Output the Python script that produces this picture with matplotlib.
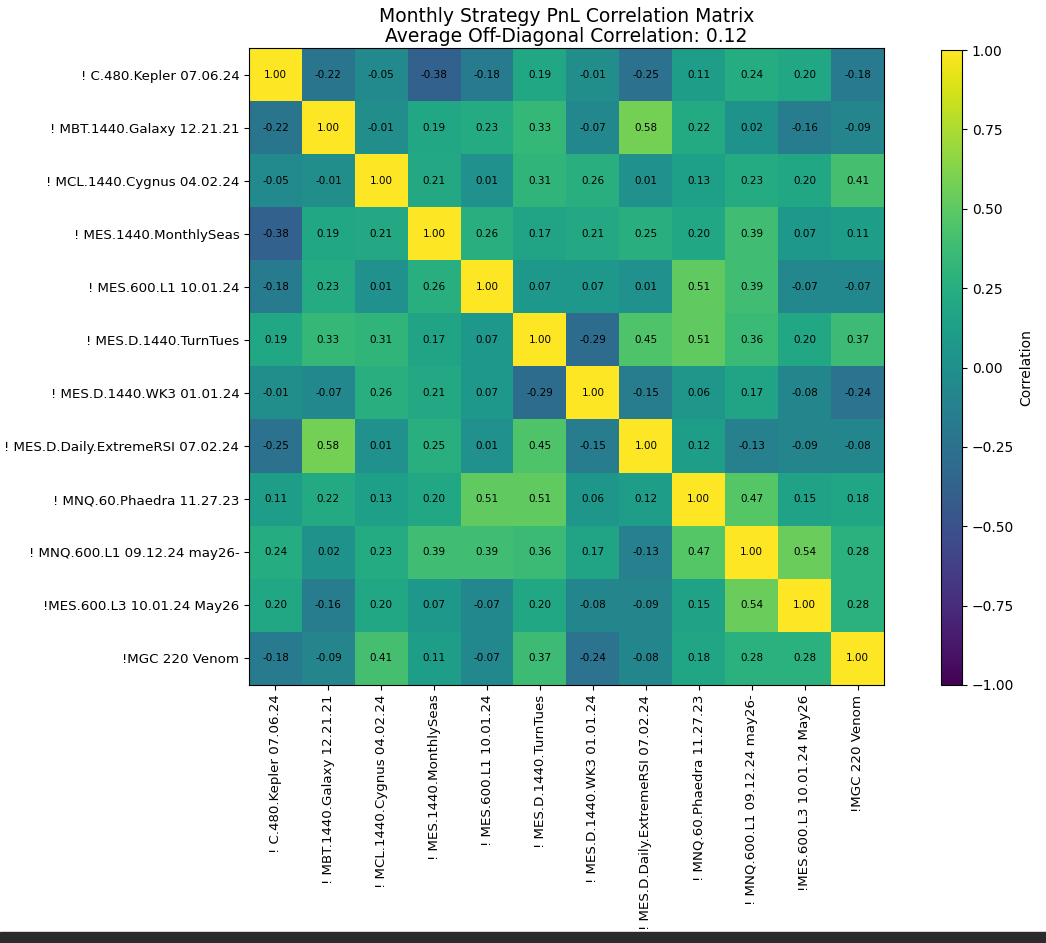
import numpy as np
import matplotlib.pyplot as plt
from matplotlib.patches import Rectangle

labels = ["! C.480.Kepler 07.06.24", "! MBT.1440.Galaxy 12.21.21", "! MCL.1440.Cygnus 04.02.24",
          "! MES.1440.MonthlySeas", "! MES.600.L1 10.01.24", "! MES.D.1440.TurnTues",
          "! MES.D.1440.WK3 01.01.24", "! MES.D.Daily.ExtremeRSI 07.02.24", "! MNQ.60.Phaedra 11.27.23",
          "! MNQ.600.L1 09.12.24 may26-", "!MES.600.L3 10.01.24 May26", "!MGC 220 Venom"]

corr = np.array([
    [1.00, -0.22, -0.05, -0.38, -0.18, 0.19, -0.01, -0.25, 0.11, 0.24, 0.20, -0.18],
    [-0.22, 1.00, -0.01, 0.19, 0.23, 0.33, -0.07, 0.58, 0.22, 0.02, -0.16, -0.09],
    [-0.05, -0.01, 1.00, 0.21, 0.01, 0.31, 0.26, 0.01, 0.13, 0.23, 0.20, 0.41],
    [-0.38, 0.19, 0.21, 1.00, 0.26, 0.17, 0.21, 0.25, 0.20, 0.39, 0.07, 0.11],
    [-0.18, 0.23, 0.01, 0.26, 1.00, 0.07, 0.07, 0.01, 0.51, 0.39, -0.07, -0.07],
    [0.19, 0.33, 0.31, 0.17, 0.07, 1.00, -0.29, 0.45, 0.51, 0.36, 0.20, 0.37],
    [-0.01, -0.07, 0.26, 0.21, 0.07, -0.29, 1.00, -0.15, 0.06, 0.17, -0.08, -0.24],
    [-0.25, 0.58, 0.01, 0.25, 0.01, 0.45, -0.15, 1.00, 0.12, -0.13, -0.09, -0.08],
    [0.11, 0.22, 0.13, 0.20, 0.51, 0.51, 0.06, 0.12, 1.00, 0.47, 0.15, 0.18],
    [0.24, 0.02, 0.23, 0.39, 0.39, 0.36, 0.17, -0.13, 0.47, 1.00, 0.54, 0.28],
    [0.20, -0.16, 0.20, 0.07, -0.07, 0.20, -0.08, -0.09, 0.15, 0.54, 1.00, 0.28],
    [-0.18, -0.09, 0.41, 0.11, -0.07, 0.37, -0.24, -0.08, 0.18, 0.28, 0.28, 1.00],
])
avg_off = 0.12

fig = plt.figure(figsize=(10.46, 9.43), dpi=100)
ax = fig.add_axes([249/1046, 1-685/943, 635/1046, 637/943])
cax = fig.add_axes([941/1046, 1-685/943, 21/1046, 635/943])

im = ax.imshow(corr, cmap="viridis", vmin=-1, vmax=1, aspect="auto")
n = len(labels)
for i in range(n):
    for j in range(n):
        ax.text(j, i, f"{corr[i, j]:.2f}", ha="center", va="center", fontsize=7.5, color="black")

ax.set_xticks(range(n))
ax.set_yticks(range(n))
ax.set_xticklabels(labels, rotation=90, fontsize=9.6)
ax.set_yticklabels(labels, fontsize=9.6)
ax.set_title(f"Monthly Strategy PnL Correlation Matrix\nAverage Off-Diagonal Correlation: {avg_off:.2f}",
             fontsize=13.5, pad=4, linespacing=1.1)

cb = fig.colorbar(im, cax=cax)
cb.set_ticks([-1, -0.75, -0.5, -0.25, 0, 0.25, 0.5, 0.75, 1])
cb.ax.tick_params(labelsize=10)
cb.set_label("Correlation", fontsize=10)

fig.patches.append(Rectangle((0, 0), 1, 11/943, transform=fig.transFigure, color="#2b2b2b", zorder=10))

fig.savefig("out.png", dpi=100)
